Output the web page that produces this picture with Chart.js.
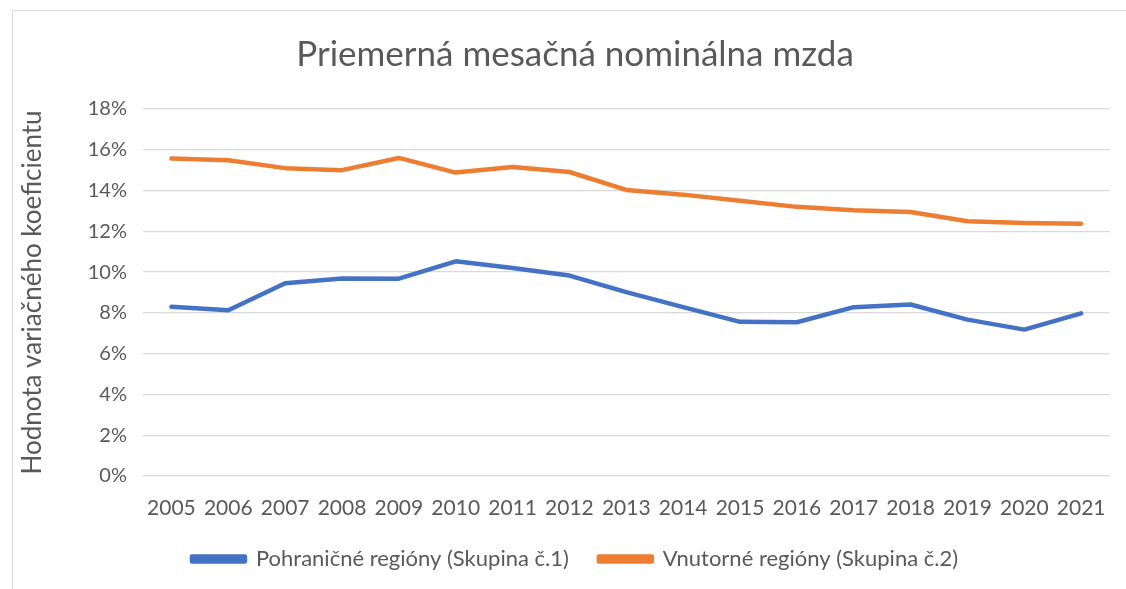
<!DOCTYPE html>
<html>
<head>
<meta charset="utf-8">
<script src="https://cdn.jsdelivr.net/npm/chart.js@4"></script>
<style>
  html, body { margin: 0; padding: 0; background: #fff; }
  #wrap { position: relative; width: 1126px; height: 589px; }
  #frame { position: absolute; left: 12px; top: 10px; width: 1120px; height: 590px; border: 1px solid #d9d9d9; }
  canvas { position: absolute; left: 0; top: 0; }
</style>
</head>
<body>
<div id="wrap">
  <div id="frame"></div>
  <canvas id="myChart" width="1126" height="589"></canvas>
</div>
<script>
// data
const years = ['2005', '2006', '2007', '2008', '2009', '2010', '2011', '2012', '2013',
  '2014', '2015', '2016', '2017', '2018', '2019', '2020', '2021'];
const border = [8.30, 8.13, 9.45, 9.69, 9.68, 10.53, 10.20, 9.83, 9.02,
  8.28, 7.56, 7.54, 8.28, 8.41, 7.67, 7.18, 7.98];
const inner = [15.57, 15.49, 15.10, 15.00, 15.60, 14.88, 15.15, 14.91, 14.03,
  13.80, 13.50, 13.20, 13.04, 12.95, 12.49, 12.41, 12.37];
const yTicks = [0, 2, 4, 6, 8, 10, 12, 14, 16, 18];

const labelBorder = 'Pohraničné regióny (Skupina č.1)';
const labelInner = 'Vnutorné regióny (Skupina č.2)';
const titleText = 'Priemerná mesačná nominálna mzda';
const yTitle = 'Hodnota variačného koeficientu';

const textColor = '#595959';
const fontFamily = 'Lato, "Open Sans", sans-serif';

const data = {
  labels: years,
  datasets: [
    {
      label: labelBorder,
      data: border,
      borderColor: '#4472c4',
      backgroundColor: '#4472c4',
      borderWidth: 4.5,
      pointRadius: 0,
      borderCapStyle: 'round',
      borderJoinStyle: 'round',
      tension: 0
    },
    {
      label: labelInner,
      data: inner,
      borderColor: '#ed7d31',
      backgroundColor: '#ed7d31',
      borderWidth: 4.5,
      pointRadius: 0,
      borderCapStyle: 'round',
      borderJoinStyle: 'round',
      tension: 0
    }
  ]
};

const options = {
  responsive: false,
  animation: false,
  layout: {
    // wider left padding so title and legend are centred like the original
    padding: { left: 40, right: 16, top: 0, bottom: 9 }
  },
  plugins: {
    title: {
      display: true,
      text: titleText,
      color: textColor,
      font: { family: fontFamily, size: 35, weight: 'normal' },
      padding: { top: 34, bottom: 33 }
    },
    legend: {
      position: 'bottom',
      labels: {
        color: textColor,
        font: { family: fontFamily, size: 22 },
        boxWidth: 53,
        boxHeight: 5,
        padding: 30
      }
    },
    tooltip: { enabled: false }
  },
  scales: {
    x: {
      offset: true,
      grid: { display: false, drawTicks: false },
      border: { display: false },
      ticks: {
        color: textColor,
        font: { family: fontFamily, size: 21 },
        padding: 20,
        maxRotation: 0,
        autoSkip: false
      },
      afterFit: (s) => { s.height = 42; }
    },
    y: {
      min: 0,
      max: 18,
      afterBuildTicks: (s) => { s.ticks = yTicks.map(v => ({ value: v })); },
      grid: { color: '#d9d9d9', lineWidth: 1.3, drawTicks: false },
      border: { display: false },
      ticks: {
        color: textColor,
        font: { family: fontFamily, size: 20 },
        padding: 16,
        callback: (v) => v + '%'
      },
      title: {
        display: true,
        text: yTitle,
        color: textColor,
        font: { family: fontFamily, size: 26 },
        padding: { top: -23, bottom: 0 }
      },
      afterFit: (s) => { s.width = 103; }
    }
  }
};

//render
new Chart(document.getElementById('myChart'), {
  type: 'line',
  data,
  options
});
</script>
</body>
</html>
